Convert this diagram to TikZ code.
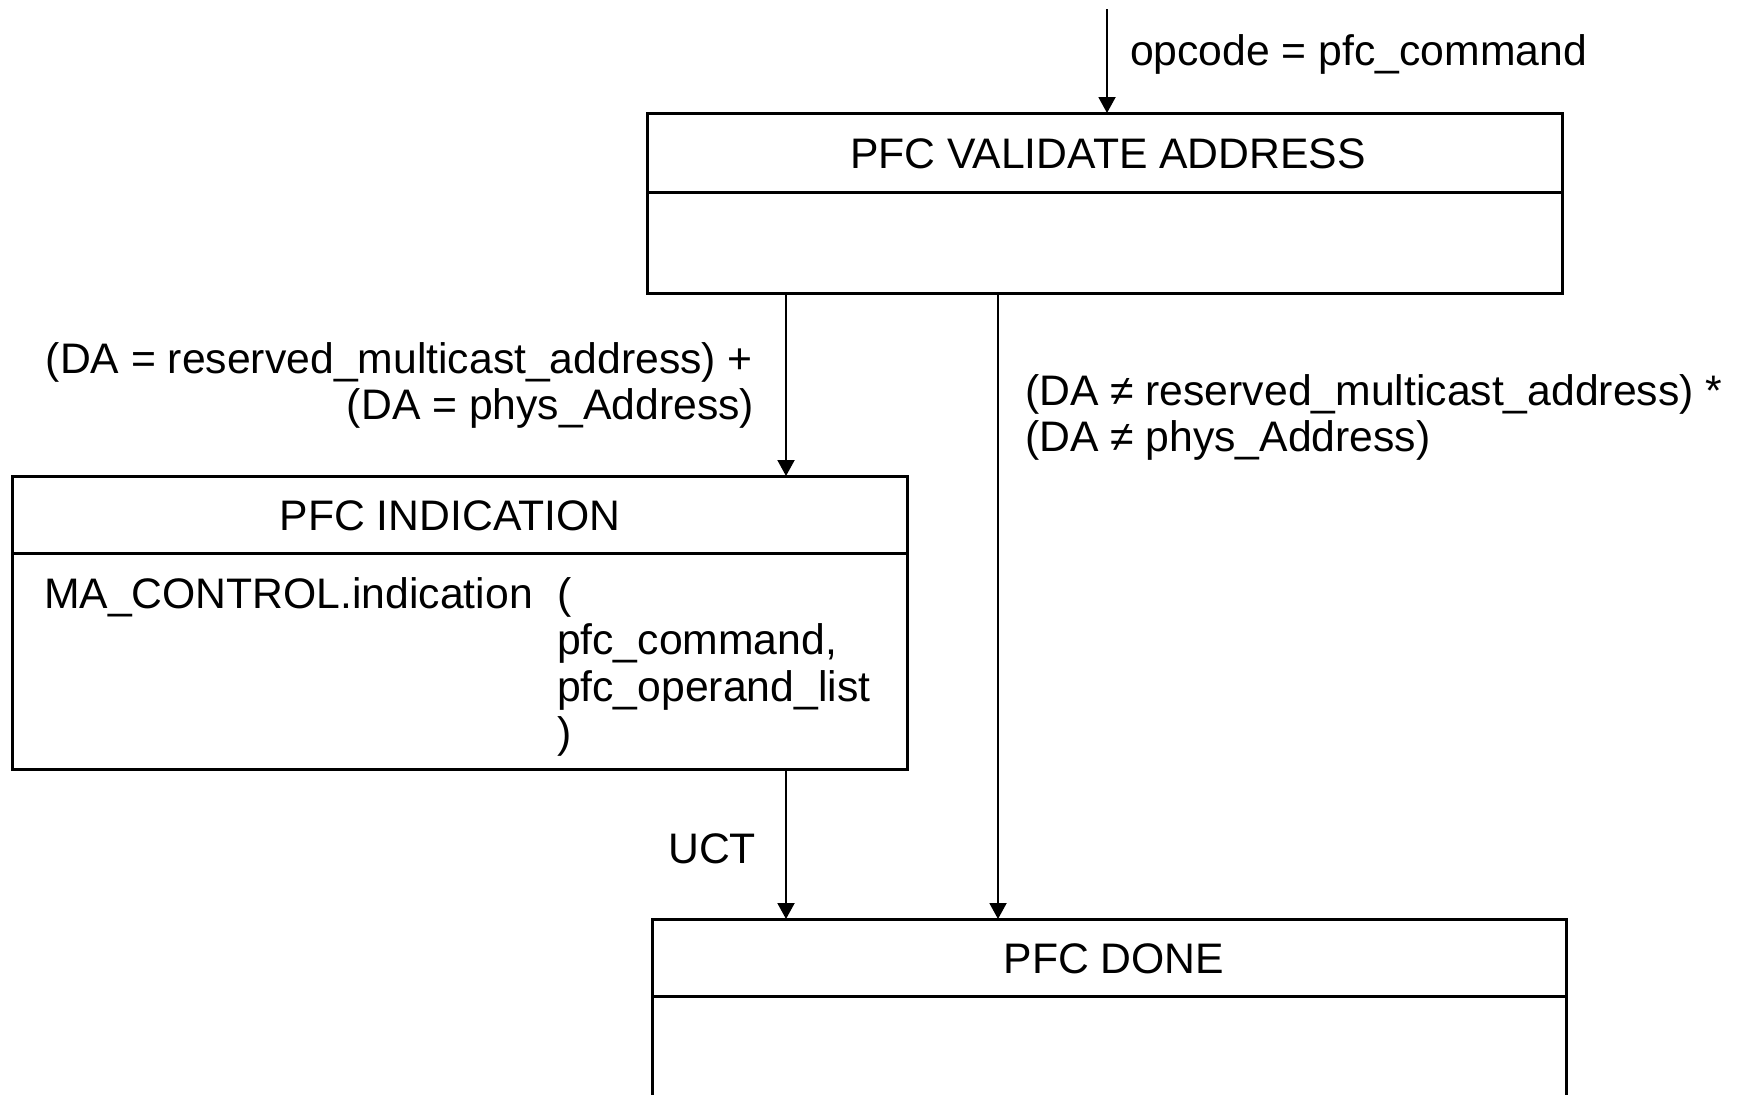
\documentclass[tikz,border=0pt]{standalone}
\usepackage{fontspec}
\setmainfont{Liberation Sans}
\usetikzlibrary{arrows.meta}
\tikzset{
  statebox/.style={draw=black, line width=1.5pt, inner sep=0pt, outer sep=0pt},
  divline/.style={black, line width=1.5pt},
  trans/.style={black, line width=1pt, -{Triangle[length=8pt, width=8.5pt]}},
  lbl/.style={font=\fontsize{21.35pt}{23.25pt}\selectfont, inner sep=0pt, outer sep=0pt}
}

\begin{document}
\begin{tikzpicture}[x=0.5pt, y=-0.5pt]
  \clip (0,0) rectangle (1738,1094);
  \node[statebox, minimum width=457.5pt, minimum height=90pt] (validate) at (1104.5,203) {};
  \node[statebox, minimum width=447.5pt, minimum height=146.5pt] (indication) at (459.5,622.5) {};
  \node[statebox, minimum width=457pt, minimum height=100.5pt] (done) at (1109,1019.5) {};
  \draw[divline] (validate.north west) ++(0,79) -- ++(915,0);
  \draw[divline] (indication.north west) ++(0,77) -- ++(895,0);
  \draw[divline] (done.north west) ++(0,77) -- ++(914,0);
  \node[lbl, anchor=base] (valtitle) at (1108,168) {PFC VALIDATE ADDRESS};
  \node[lbl, anchor=base] (indtitle) at (450,530) {PFC INDICATION};
  \node[lbl, anchor=base] (donetitle) at (1114,973) {PFC DONE};
  \node[lbl, anchor=base west] (macall) at (44,608) {MA\_CONTROL.indication};
  \node[lbl, anchor=base west] (maopen) at (557,608) {(};
  \node[lbl, anchor=base west] (maarg1) at (557,654.5) {pfc\_command,};
  \node[lbl, anchor=base west] (maarg2) at (557,701) {pfc\_operand\_list};
  \node[lbl, anchor=base west] (maclose) at (557,747.5) {)};
  \coordinate (entry) at (1107,9);
  \coordinate (colA) at (786,0);
  \coordinate (colB) at (998,0);
  \draw[trans] (entry) -- (entry |- validate.north);
  \draw[trans] (validate.south -| colA) -- (indication.north -| colA);
  \draw[trans] (indication.south -| colA) -- (done.north -| colA);
  \draw[trans] (validate.south -| colB) -- (done.north -| colB);
  \node[lbl, anchor=base west] (opcode) at (1130,65) {opcode = pfc\_command};
  \node[lbl, anchor=base east] (eqline1) at (753,373) {(DA = reserved\_multicast\_address) +};
  \node[lbl, anchor=base east] (eqline2) at (754,419) {(DA = phys\_Address)};
  \node[lbl, anchor=base west] (neline1) at (1025,405) {(DA ≠ reserved\_multicast\_address) *};
  \node[lbl, anchor=base west] (neline2) at (1025,451) {(DA ≠ phys\_Address)};
  \node[lbl, anchor=base east] (uct) at (756,863) {UCT};
\end{tikzpicture}
\end{document}
